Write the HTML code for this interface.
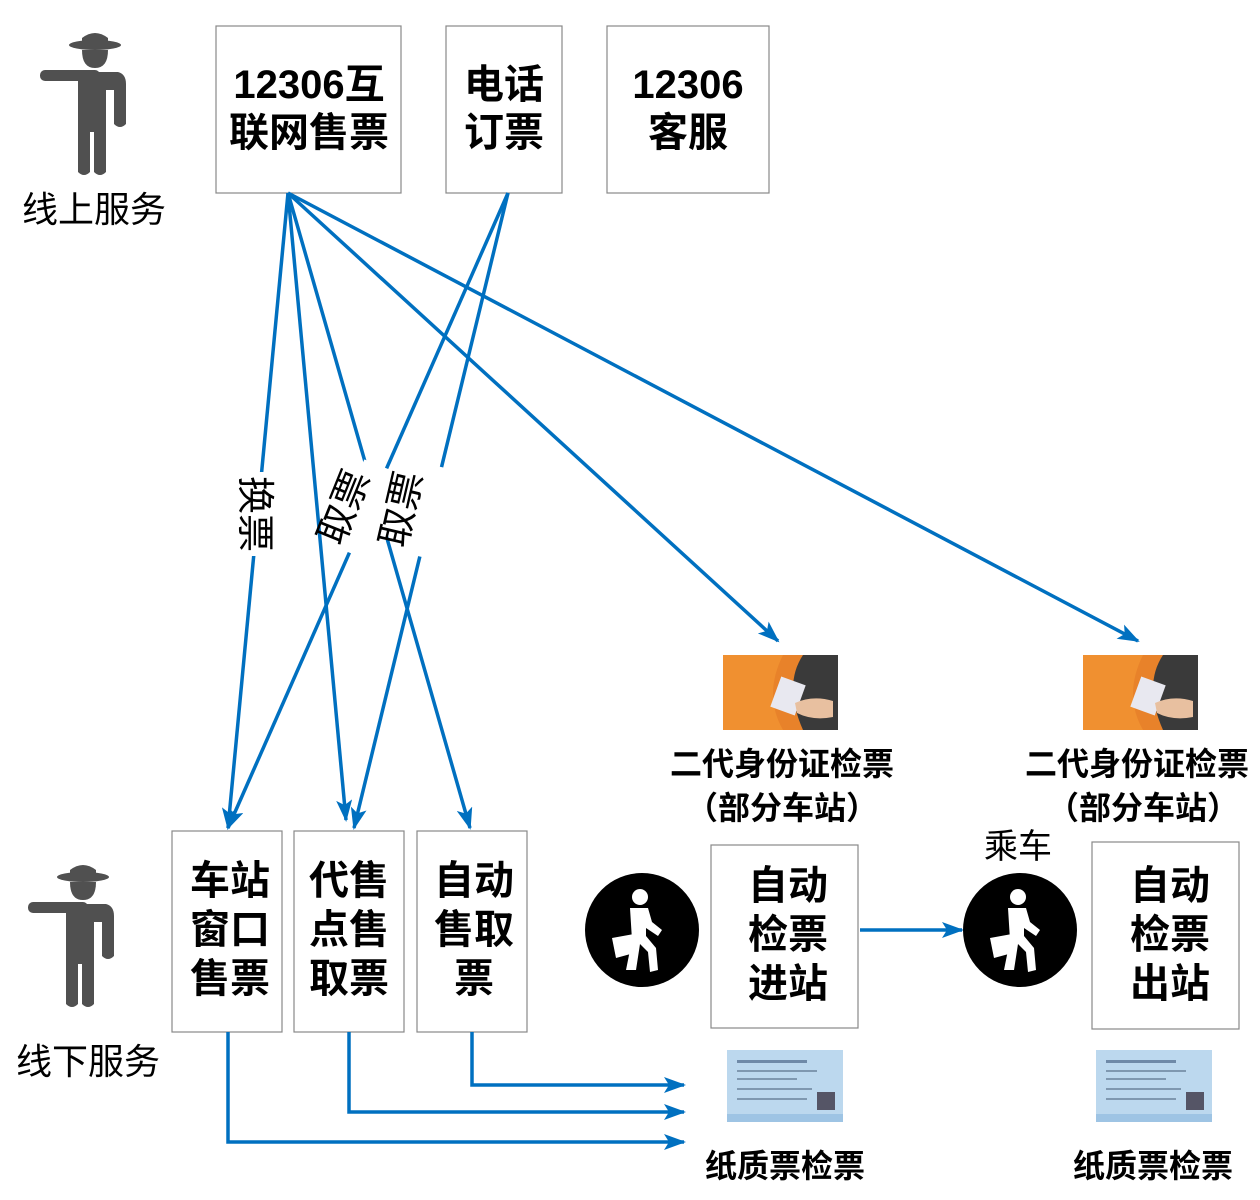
<!DOCTYPE html>
<html><head><meta charset="utf-8"><style>
body{margin:0;background:#fff;}
svg text{font-family:"Liberation Sans","Noto Sans CJK SC",sans-serif;}
</style></head><body>
<svg width="1260" height="1195" viewBox="0 0 1260 1195" xmlns="http://www.w3.org/2000/svg">
<defs>
<marker id="ah" markerWidth="22" markerHeight="16" refX="20" refY="8" orient="auto" markerUnits="userSpaceOnUse" viewBox="0 0 22 16">
<path d="M0,0 L22,8 L0,16 L5,8 z" fill="#0070c0"/></marker>
<g id="person" fill="#505050">
<ellipse cx="95" cy="45" rx="26" ry="5"/>
<path d="M82,38 Q95,28 108,38 L108,46 L82,46z"/>
<path d="M82,50 L108,50 Q108,68 95,68 Q82,68 82,50z"/>
<rect x="40" y="70" width="60" height="11" rx="5"/>
<path d="M78,72 L118,72 Q126,74 126,84 L126,124 Q120,130 114,124 L114,90 L106,90 L106,172 Q100,178 94,172 L94,132 L90,132 L90,172 Q84,178 78,172z"/>
</g>
<g id="walker">
<circle cx="0" cy="0" r="57" fill="#000"/>
<circle cx="-2" cy="-33" r="8" fill="#fff"/>
<path d="M-12,-22 L6,-22 L10,-8 L20,0 L16,6 L4,-2 L4,6 L14,18 L16,40 L8,42 L6,22 L-2,14 L-6,40 L-16,40 L-10,10 L-12,-22z" fill="#fff"/>
<path d="M-30,8 L-8,4 L-4,22 L-26,28z" fill="#fff"/>
</g>
<g id="photo">
<rect x="0" y="0" width="115" height="75" fill="#3a3a3a"/>
<path d="M0,0 L80,0 Q60,30 80,75 L0,75z" fill="#e8822a"/>
<path d="M0,0 L60,0 Q40,40 60,75 L0,75z" fill="#f09030"/>
<rect x="52" y="25" width="26" height="32" fill="#e8e8f0" transform="rotate(20 65 41)"/>
<path d="M72,48 Q90,40 110,46 L110,62 Q90,66 74,58z" fill="#e8c0a0"/>
</g>
<g id="ticket">
<rect x="0" y="0" width="116" height="72" fill="#bcd8ee"/>
<rect x="10" y="10" width="70" height="3" fill="#6f8aa8"/>
<rect x="10" y="20" width="80" height="2" fill="#7f98b0"/>
<rect x="10" y="28" width="60" height="2" fill="#7f98b0"/>
<rect x="10" y="38" width="75" height="2" fill="#7f98b0"/>
<rect x="10" y="48" width="70" height="2" fill="#7f98b0"/>
<rect x="90" y="42" width="18" height="18" fill="#556"/>
<rect x="0" y="64" width="116" height="8" fill="#9ec4e4"/>
</g>
</defs>

<use href="#person"/>
<use href="#person" transform="translate(-12,832)"/>
<text x="22" y="222" font-size="36">线上服务</text>
<text x="16" y="1074" font-size="36">线下服务</text>

<g fill="#fff" stroke="#888" stroke-width="1.2">
<rect x="216" y="26" width="185" height="167"/>
<rect x="446" y="26" width="116" height="167"/>
<rect x="607" y="26" width="162" height="167"/>
<rect x="172" y="831" width="110" height="201"/>
<rect x="294" y="831" width="110" height="201"/>
<rect x="417" y="831" width="110" height="201"/>
<rect x="711" y="845" width="147" height="183"/>
<rect x="1092" y="842" width="147" height="187"/>
</g>
<g font-size="40" text-anchor="middle" font-weight="bold">
<text x="309" y="98">12306互</text><text x="309" y="146">联网售票</text>
<text x="504" y="98">电话</text><text x="504" y="146">订票</text>
<text x="688" y="98">12306</text><text x="688" y="146">客服</text>
<text x="230" y="894">车站</text><text x="230" y="943">窗口</text><text x="230" y="992">售票</text>
<text x="349" y="894">代售</text><text x="349" y="943">点售</text><text x="349" y="992">取票</text>
<text x="474" y="894">自动</text><text x="474" y="943">售取</text><text x="474" y="992">票</text>
<text x="788" y="899">自动</text><text x="788" y="948">检票</text><text x="788" y="997">进站</text>
<text x="1170" y="899">自动</text><text x="1170" y="948">检票</text><text x="1170" y="997">出站</text>
</g>

<g stroke="#0070c0" stroke-width="3.5" fill="none">
<line x1="288" y1="193" x2="228" y2="828" marker-end="url(#ah)"/>
<line x1="288" y1="193" x2="346" y2="820" marker-end="url(#ah)"/>
<line x1="288" y1="193" x2="470" y2="828" marker-end="url(#ah)"/>
<line x1="288" y1="193" x2="778" y2="641" marker-end="url(#ah)"/>
<line x1="288" y1="193" x2="1138" y2="641" marker-end="url(#ah)"/>
<line x1="508" y1="193" x2="228" y2="828" marker-end="url(#ah)"/>
<line x1="508" y1="193" x2="354" y2="828" marker-end="url(#ah)"/>
<polyline points="228,1032 228,1142 684,1142" marker-end="url(#ah)"/>
<polyline points="349,1032 349,1112 684,1112" marker-end="url(#ah)"/>
<polyline points="472,1032 472,1085 684,1085" marker-end="url(#ah)"/>
<line x1="860" y1="930" x2="962" y2="930" marker-end="url(#ah)"/>
</g>
<g font-size="38" fill="#000">
<rect x="236" y="472" width="38" height="84" fill="#fff"/>
<text transform="translate(242,514) rotate(90)" text-anchor="middle">换票</text>
<rect x="345" y="465" width="50" height="92" fill="#fff" transform="rotate(22 369 512)"/>
<text transform="translate(356,512) rotate(-68)" text-anchor="middle">取票</text>
<rect x="404" y="465" width="46" height="92" fill="#fff" transform="rotate(13 427 512)"/>
<text transform="translate(414,512) rotate(-77)" text-anchor="middle">取票</text>
</g>

<use href="#walker" transform="translate(642,930)"/>
<use href="#walker" transform="translate(1020,930)"/>
<use href="#photo" transform="translate(723,655)"/>
<use href="#photo" transform="translate(1083,655)"/>
<use href="#ticket" transform="translate(727,1050)"/>
<use href="#ticket" transform="translate(1096,1050)"/>

<g font-size="32" font-weight="bold" text-anchor="middle">
<text x="782" y="775">二代身份证检票</text>
<text x="782" y="819">（部分车站）</text>
<text x="1137" y="775">二代身份证检票</text>
<text x="1143" y="819">（部分车站）</text>
<text x="785" y="1177">纸质票检票</text>
<text x="1153" y="1177">纸质票检票</text>
</g>
<text x="1018" y="858" font-size="34" text-anchor="middle">乘车</text>
</svg>
</body></html>
